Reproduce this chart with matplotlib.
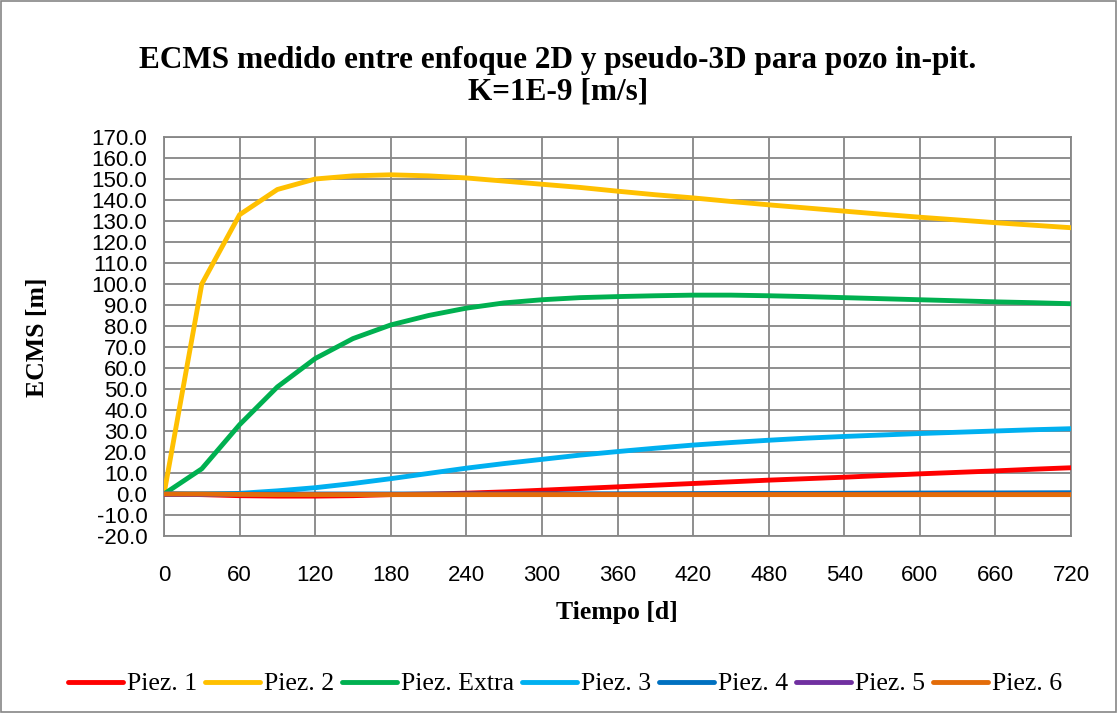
import matplotlib
matplotlib.use("Agg")
import matplotlib.pyplot as plt
from matplotlib.patches import Rectangle

t = list(range(0, 721, 30))
piez1 = [0, -0.3, -0.8, -1.0, -1.0, -0.8, -0.3, 0.0, 0.4, 1.0, 1.8, 2.6, 3.4, 4.2, 5.0, 5.8, 6.6, 7.3, 8.0, 8.8, 9.6, 10.3, 11.0, 11.8, 12.5]
piez2 = [0, 100, 133, 145, 150, 151.5, 152, 151.5, 150.5, 149, 147.5, 146, 144.2, 142.5, 141, 139.3, 137.7, 136.2, 134.7, 133.2, 131.8, 130.5, 129.2, 128, 126.8]
piez_extra = [0, 12, 33, 51, 64.5, 74, 80.5, 85, 88.5, 91, 92.5, 93.5, 94, 94.4, 94.7, 94.7, 94.4, 94, 93.5, 93, 92.5, 92, 91.5, 91.1, 90.6]
piez3 = [0, 0, 0.3, 1.5, 3, 5, 7.3, 9.8, 12.3, 14.5, 16.5, 18.5, 20.2, 21.8, 23.3, 24.5, 25.6, 26.6, 27.4, 28.1, 28.8, 29.4, 30.0, 30.6, 31.1]
piez4 = [0, 0, 0, 0, 0, 0, 0, 0, 0, 0, 0.05, 0.1, 0.1, 0.15, 0.2, 0.25, 0.3, 0.3, 0.35, 0.4, 0.45, 0.5, 0.5, 0.55, 0.6]
piez5 = [0] * 25
piez6 = [0, 0, -0.2, -0.3, -0.3, -0.3, -0.3, -0.3, -0.3, -0.3, -0.3, -0.3, -0.3, -0.3, -0.3, -0.3, -0.3, -0.3, -0.3, -0.3, -0.3, -0.3, -0.3, -0.3, -0.3]

series = [
    ("Piez. 1", piez1, "#FF0000"),
    ("Piez. 2", piez2, "#FFC000"),
    ("Piez. Extra", piez_extra, "#00B050"),
    ("Piez. 3", piez3, "#00B0F0"),
    ("Piez. 4", piez4, "#0070C0"),
    ("Piez. 5", piez5, "#7030A0"),
    ("Piez. 6", piez6, "#E36C09"),
]

xticks = list(range(0, 721, 60))
yticks = [v * 10 for v in range(-2, 18)]

serif = "Liberation Serif"
sans = "Liberation Sans"

W, H = 1117, 713
fig = plt.figure(figsize=(W / 100, H / 100), dpi=100)
ax = fig.add_axes([164 / W, 1 - 536 / H, (1071 - 164) / W, (536 - 137) / H])

for name, vals, col in series:
    ax.plot(t, vals, color=col, lw=3.5, label=name, solid_capstyle="round", zorder=3)

ax.set_xlim(0, 720)
ax.set_ylim(-20, 170)
ax.set_xticks(xticks)
ax.set_yticks(yticks)
ax.set_yticklabels([f"{v:.1f}" for v in yticks], fontfamily=sans, fontsize=16)
ax.set_xticklabels([str(v) for v in xticks], fontfamily=sans, fontsize=16)
ax.grid(True, color="#868686", lw=1.3, zorder=0)
ax.set_axisbelow(True)
for s in ax.spines.values():
    s.set_color("#868686")
    s.set_linewidth(1.3)
ax.tick_params(axis="x", length=0, pad=21)
ax.tick_params(axis="y", length=0, pad=12)

fig.text(617 / W, 1 - 612 / H, "Tiempo [d]", ha="center", va="center",
         fontfamily=serif, fontsize=18.5, fontweight="bold")
fig.text(38 / W, 1 - 337 / H, "ECMS [m]", ha="center", va="center", rotation=90,
         fontfamily=serif, fontsize=18.5, fontweight="bold")

fig.text(558 / W, 1 - 68 / H, "ECMS medido entre enfoque 2D y pseudo-3D para pozo in-pit.",
         ha="center", va="baseline", fontfamily=serif, fontsize=22.5, fontweight="bold")
fig.text(558 / W, 1 - 99 / H, "K=1E-9 [m/s]",
         ha="center", va="baseline", fontfamily=serif, fontsize=22.5, fontweight="bold")

fig.legend(loc="center", bbox_to_anchor=(565 / W, 1 - 684 / H), ncol=7, frameon=False,
           prop={"family": serif, "size": 18.5}, handlelength=2.15, handletextpad=0.15,
           columnspacing=0.3, borderpad=0, borderaxespad=0)

fig.patches.append(Rectangle((0.001, 0.001), 0.998, 0.998, transform=fig.transFigure,
                             fill=False, edgecolor="#868686", lw=1.2))

fig.savefig("out.png", dpi=100)
